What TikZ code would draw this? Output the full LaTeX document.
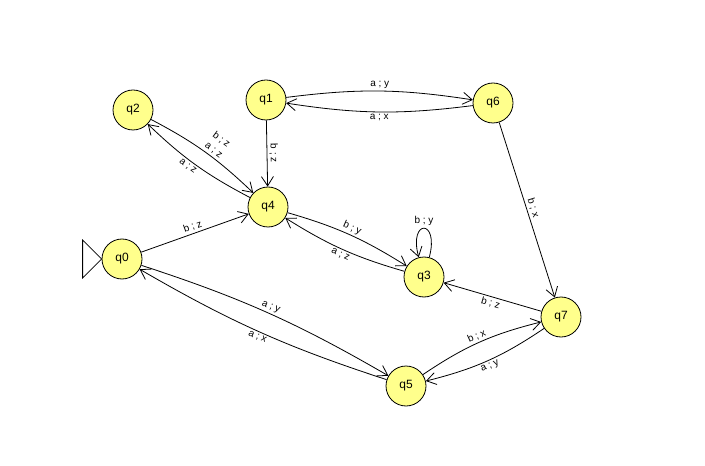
\documentclass[tikz,border=0pt]{standalone}
\usepackage{fontspec}
\setmainfont{Liberation Sans}
\usetikzlibrary{arrows.meta}
\definecolor{stateyellow}{RGB}{255,255,140}

\begin{document}
\begin{tikzpicture}[x=0.75pt, y=-0.75pt,
        >={Straight Barb[length=7pt,width=9pt]},
        state/.style={circle, draw, line width=0.6pt, fill=stateyellow,
            minimum size=30pt, inner sep=0pt, font=\fontsize{9}{10}\selectfont},
        lbl/.style={font=\fontsize{7.5}{9.5}\selectfont, inner sep=1.5pt, sloped},
        trans/.style={->, line width=0.6pt}]
        \useasboundingbox (0,0) rectangle (705,466);

        \node[state] (q0) at (122,259) {q0};
        \node[state] (q1) at (266,100) {q1};
        \node[state] (q2) at (133,110) {q2};
        \node[state] (q3) at (424,277) {q3};
        \node[state] (q4) at (268,207) {q4};
        \node[state] (q5) at (406,386) {q5};
        \node[state] (q6) at (493,103) {q6};
        \node[state] (q7) at (561,317) {q7};

        % start marker
        \draw[line width=0.6pt] (q0.west) -- ++(-19,-19) -- ++(0,38) -- cycle;

        \draw[trans] (q0) -- node[lbl, above] {b ; z} (q4);
        \draw[trans] (q1) -- node[lbl, above] {b ; z} (q4);
        \draw[trans] (q6) -- node[lbl, above] {b ; x} (q7);
        \draw[trans] (q7) -- node[lbl, below] {b ; z} (q3);

        \draw[trans] (q1) to[bend left=8] node[lbl, above] {a ; y} (q6);
        \draw[trans] (q6) to[bend left=8] node[lbl, below] {a ; x} (q1);
        \draw[trans] (q2) to[bend left=8] node[lbl, above, pos=0.55, align=center] {b ; z\\a ; z} (q4);
        \draw[trans] (q4) to[bend left=8] node[lbl, below, pos=0.55] {a ; z} (q2);
        \draw[trans] (q4) to[bend left=8] node[lbl, above] {b ; y} (q3);
        \draw[trans] (q3) to[bend left=8] node[lbl, below] {a ; z} (q4);
        \draw[trans] (q0) to[bend left=6] node[lbl, above] {a ; y} (q5);
        \draw[trans] (q5) to[bend left=6] node[lbl, below] {a ; x} (q0);
        \draw[trans] (q5) to[bend left=10] node[lbl, above] {b ; x} (q7);
        \draw[trans] (q7) to[bend left=10] node[lbl, below] {a ; y} (q5);

        \draw[trans] (q3) to[out=75, in=105, distance=30pt] node[lbl, above, sloped=false] {b ; y} (q3);
\end{tikzpicture}
\end{document}
